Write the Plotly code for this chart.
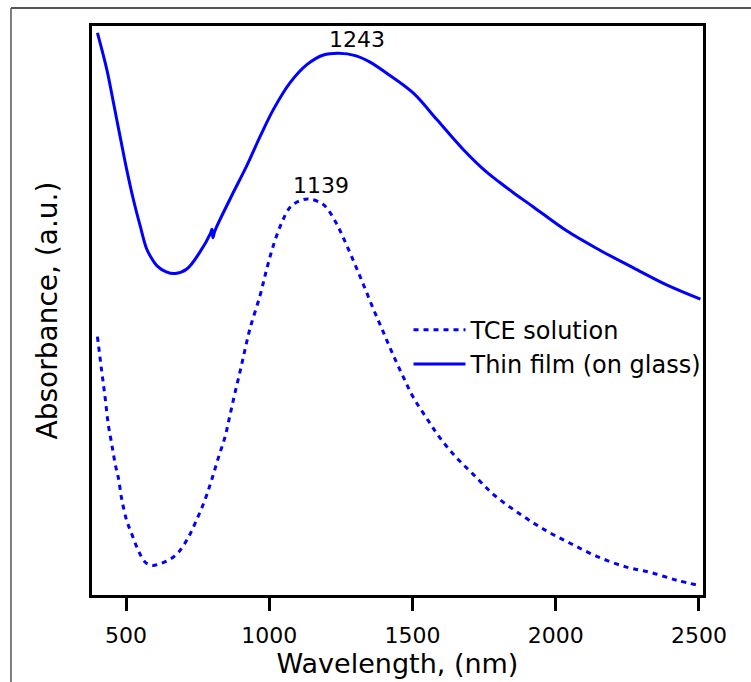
import plotly.graph_objects as go

# Thin film (on glass) - solid
film_nm = [400, 433, 456, 479, 502, 525, 549, 572, 590, 607, 640, 671, 712, 758, 795, 800, 803, 810,
           863, 921, 968, 1014, 1072, 1131, 1189, 1243, 1300, 1350, 1410, 1503, 1584, 1677, 1759, 1805,
           1852, 1922, 2038, 2154, 2271, 2387, 2505]
film_abs = [0.988, 0.923, 0.865, 0.806, 0.748, 0.696, 0.649, 0.608, 0.591, 0.579, 0.568, 0.565, 0.573,
            0.603, 0.636, 0.643, 0.628, 0.640, 0.696, 0.754, 0.806, 0.853, 0.900, 0.932, 0.949,
            0.952, 0.948, 0.937, 0.917, 0.882, 0.836, 0.783, 0.743, 0.725,
            0.707, 0.682, 0.640, 0.606, 0.575, 0.545, 0.520]

# TCE solution - dotted
tce_nm = [400, 415, 427, 438, 450, 462, 473, 485, 502, 520, 543, 566, 590, 619, 654, 683, 717,
          747, 776, 799, 822, 846, 863, 880, 898, 915, 933, 968, 991, 1014, 1044, 1072, 1107,
          1139, 1189, 1230, 1259, 1294, 1328, 1363, 1398, 1433, 1468, 1503, 1549, 1596, 1654,
          1712, 1782, 1876, 1963, 2050, 2143, 2247, 2329, 2422, 2498]
tce_abs = [0.454, 0.393, 0.346, 0.299, 0.265, 0.230, 0.206, 0.168, 0.131, 0.107, 0.078, 0.058,
           0.052, 0.055, 0.063, 0.075, 0.101, 0.133, 0.168, 0.203, 0.241, 0.279, 0.317, 0.355,
           0.393, 0.431, 0.469, 0.527, 0.573, 0.614, 0.655, 0.681, 0.693, 0.696, 0.686, 0.657,
           0.627, 0.587, 0.546, 0.503, 0.462, 0.421, 0.383, 0.347, 0.311, 0.276, 0.241, 0.212,
           0.177, 0.142, 0.114, 0.091, 0.068, 0.049, 0.040, 0.026, 0.017]

x_ticks = [500, 1000, 1500, 2000, 2500]
peak_labels = [("1243", 1243, 0.952, -12), ("1139", 1139, 0.696, -18)]

FONT = "DejaVu Sans"
BLUE = "#0000ff"

fig = go.Figure()
fig.add_trace(go.Scatter(x=tce_nm, y=tce_abs, mode="lines", name="TCE solution",
                         line=dict(color=BLUE, width=3, dash="5px,5px", shape="spline", smoothing=1.0)))
fig.add_trace(go.Scatter(x=film_nm, y=film_abs, mode="lines", name="Thin film (on glass)",
                         line=dict(color=BLUE, width=3, shape="spline", smoothing=1.0)))

for txt, px, py, dx in peak_labels:
    fig.add_annotation(x=px, y=py, text=txt, showarrow=False, xanchor="left", yanchor="bottom",
                       xshift=dx, yshift=-1, font=dict(family=FONT, size=22, color="black"))

# outer frame of the original figure (top and left edges visible)
fig.add_shape(type="line", xref="paper", yref="paper", x0=-0.1326, y0=1.0315, x1=1.2, y1=1.0315,
              line=dict(color="#555555", width=2), layer="above")
fig.add_shape(type="line", xref="paper", yref="paper", x0=-0.1326, y0=1.0315, x1=-0.1326, y1=-0.3,
              line=dict(color="#555555", width=1.5), layer="above")

fig.update_layout(
    width=751, height=682,
    margin=dict(l=92, r=48, t=26, b=84),
    paper_bgcolor="white", plot_bgcolor="white",
    font=dict(family=FONT, size=22, color="black"),
    showlegend=True,
    legend=dict(x=0.518, y=0.505, xanchor="left", yanchor="top", bgcolor="rgba(0,0,0,0)",
                font=dict(family=FONT, size=24), itemwidth=52, tracegroupgap=0),
    xaxis=dict(range=[381, 2514], tickvals=x_ticks, ticks="outside", ticklen=13, tickwidth=3,
               tickcolor="black", showline=True, linecolor="black", linewidth=3, mirror=True,
               showgrid=False, zeroline=False, ticklabelstandoff=6,
               tickfont=dict(family=FONT, size=22),
               title=dict(text="Wavelength, (nm)", font=dict(family=FONT, size=27), standoff=3)),
    yaxis=dict(range=[0, 1], showticklabels=False, ticks="", showline=True, linecolor="black",
               linewidth=3, mirror=True, showgrid=False, zeroline=False,
               title=dict(text="Absorbance, (a.u.)", font=dict(family=FONT, size=28), standoff=24)),
)

fig.write_html("out.html", config={"displayModeBar": False},
               post_script="document.body.style.margin='0px';")
